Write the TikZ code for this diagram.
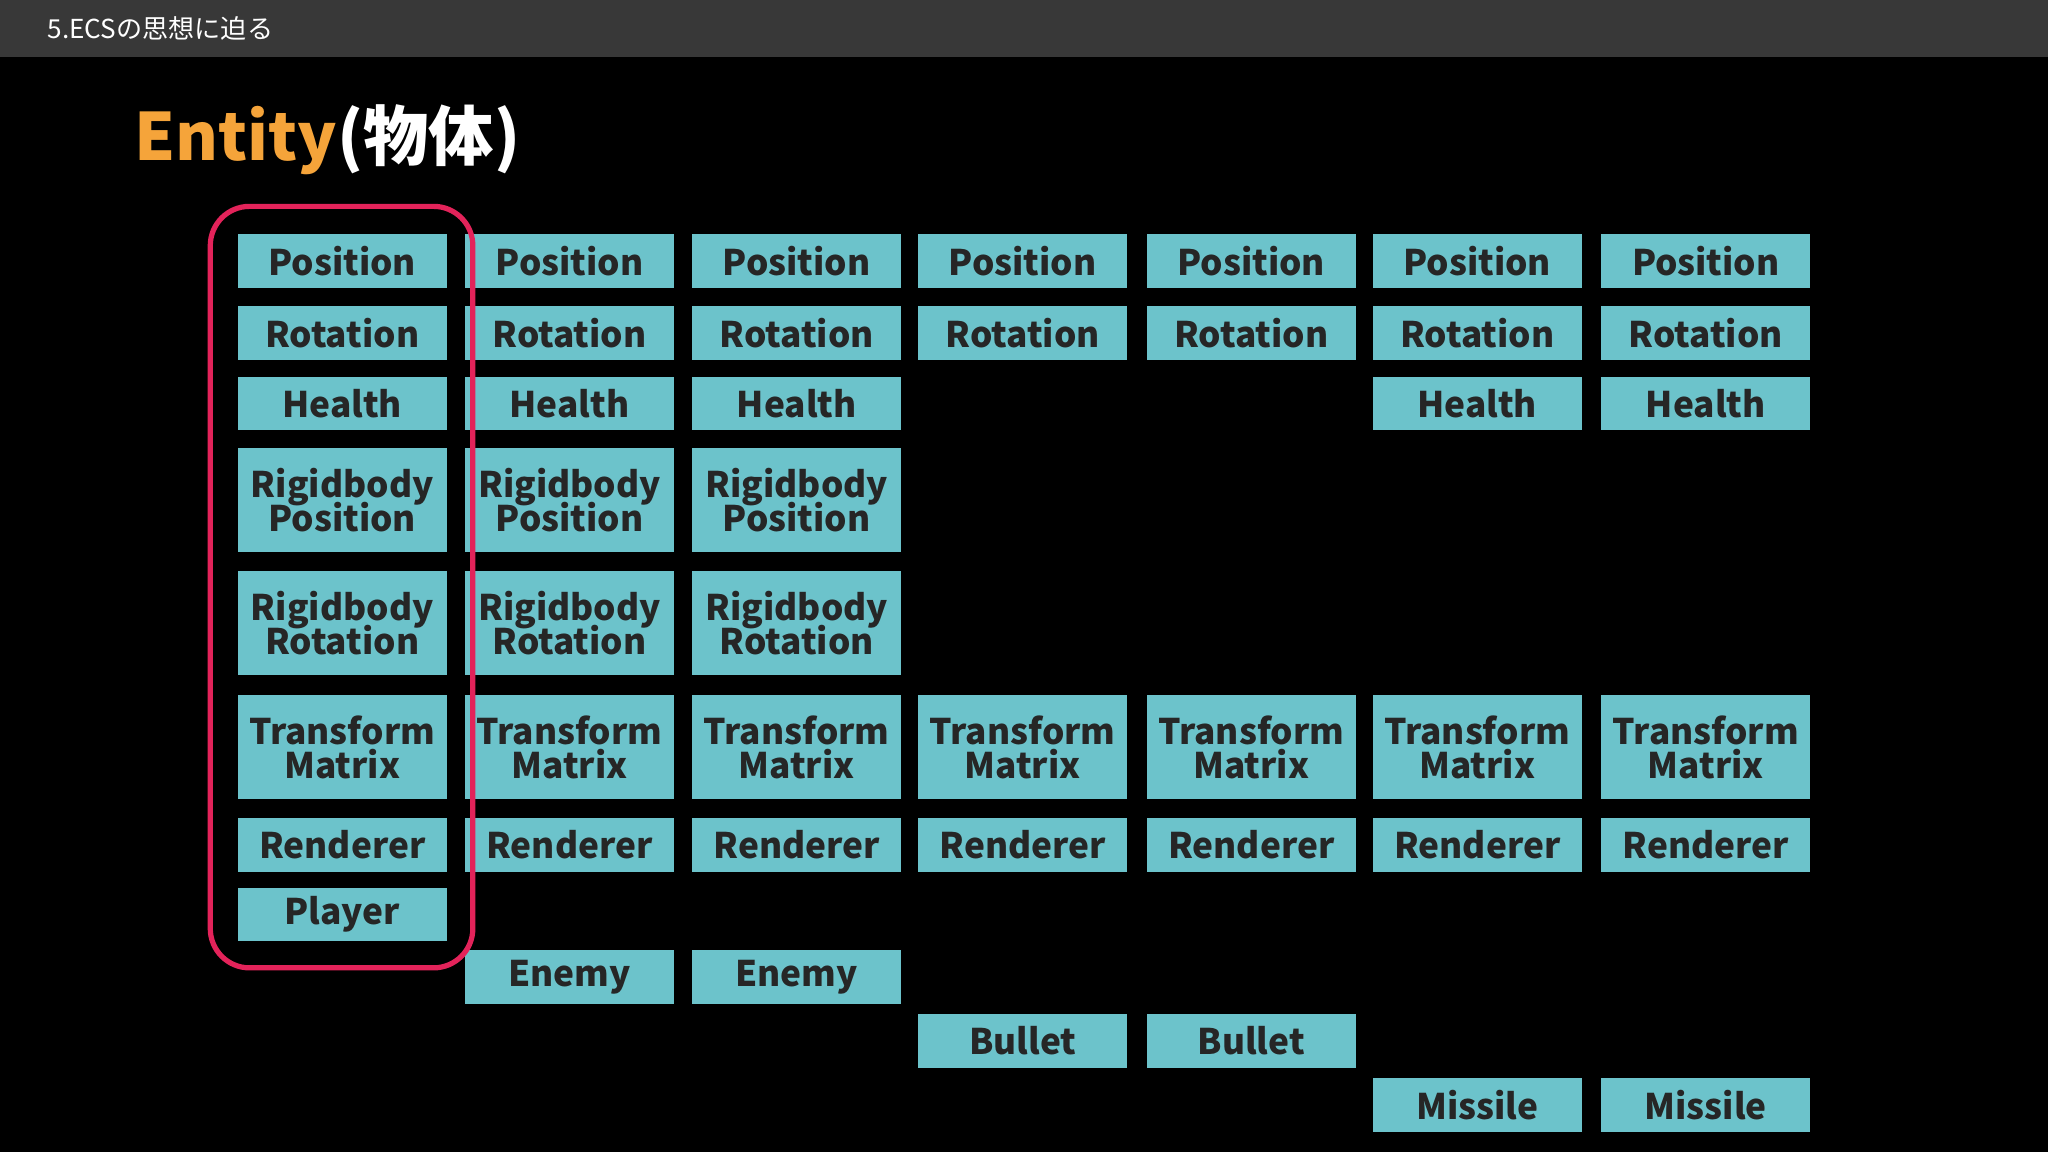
\documentclass[tikz,border=0pt]{standalone}
\usepackage{fontspec}
\setmainfont{Noto Sans CJK JP}
\definecolor{teal1}{HTML}{6CC3CB}
\definecolor{bar}{HTML}{383838}
\definecolor{orng}{HTML}{F5A43A}
\definecolor{redc}{HTML}{E3235A}
\begin{document}
\begin{tikzpicture}[x=1pt,y=-1pt,
  comp/.style={fill=teal1,minimum width=160pt,minimum height=41pt,inner sep=0pt,align=center,font=\fontsize{27}{32}\selectfont\bfseries,text=black!85},
  tall/.style={comp,minimum height=80pt}]
\fill[black] (0,0) rectangle (1568,882);
\useasboundingbox (0,0) rectangle (1568,882);
\fill[bar] (0,0) rectangle (1568,44);
\node[anchor=west,text=white,font=\fontsize{20}{24}\selectfont] (hdr) at (33,22) {5.ECSの思想に迫る};
\node[anchor=west,inner sep=0pt,font=\fontsize{50}{56}\selectfont\bfseries] (title) at (103,107) {\textcolor{orng}{Entity}\textcolor{white}{(物体)}};
\foreach \x/\c in {262/a,436/b,610/c,783/d,958/e,1131/f,1306/g}{
  \node[comp] (\c1) at (\x,200) {Position};
  \node[comp] (\c2) at (\x,255) {Rotation};
  \node[tall] (\c6) at (\x,572) {Transform\\[-6pt]Matrix};
  \node[comp] (\c7) at (\x,647) {Renderer};
}
\foreach \x/\c in {262/a,436/b,610/c,1131/f,1306/g}{
  \node[comp] (\c3) at (\x,309) {Health};
}
\foreach \x/\c in {262/a,436/b,610/c}{
  \node[tall] (\c4) at (\x,383) {Rigidbody\\[-6pt]Position};
  \node[tall] (\c5) at (\x,477) {Rigidbody\\[-6pt]Rotation};
}
\node[comp] (a8) at (262,700) {Player};
\node[comp] (b8) at (436,748) {Enemy};
\node[comp] (c8) at (610,748) {Enemy};
\node[comp] (d8) at (783,797) {Bullet};
\node[comp] (e8) at (958,797) {Bullet};
\node[comp] (f8) at (1131,846) {Missile};
\node[comp] (g8) at (1306,846) {Missile};
\draw[redc,line width=4pt,rounded corners=30pt] (161,158) rectangle (362,741);
\end{tikzpicture}
\end{document}
